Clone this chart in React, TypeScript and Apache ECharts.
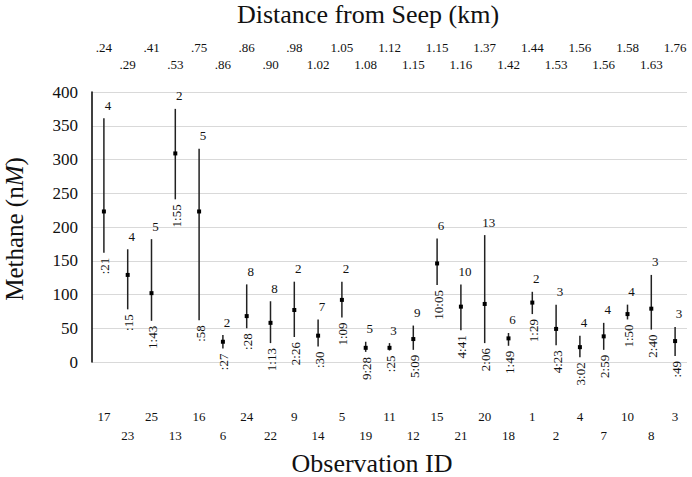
import React, { useEffect, useRef } from "react";
import * as echarts from "echarts";

const ids = ["17","23","25","13","16","6","24","22","9","14","5","19","11","12","15","21","20","18","1","2","4","7","10","8","3"];
const distances = [".24",".29",".41",".53",".75",".86",".86",".90",".98","1.02","1.05","1.08","1.12","1.15","1.15","1.16","1.37","1.42","1.44","1.53","1.56","1.56","1.58","1.63","1.76"];
const mins = [162,78,61,241,62,20,50,28,37,23,66,15,17,18,114,47,28,24,71,25,7,18,63,48,9];
const maxs = [361,167,182,375,316,40,115,90,119,63,119,30,28,54,183,115,188,43,104,85,39,58,85,129,52];
const means = [223,129,102,309,223,30,68,58,77,39,92,21,21,34,146,82,86,35,88,49,22,38,71,79,31];
const counts = [4,4,5,2,5,2,8,8,2,7,2,5,3,9,6,10,13,6,2,3,4,4,4,3,3];
const times = [":21",":15","1:43","1:55",":58",":27",":28","1:13","2:26",":30","1:09","9:28",":25","5:09","10:05","4:41","2:06","1:49","1:29","4:23","3:02","2:59","1:50","2:40",":49"];
const yTicks = { min: 0, max: 400, interval: 50 };

const FONT = "'Liberation Serif', 'Times New Roman', serif";
const TXT = "#111";

export default function App() {
  const ref = useRef<HTMLDivElement>(null);
  useEffect(() => {
    document.body.style.margin = "0";
    if (!ref.current) return;
    const chart = echarts.init(ref.current, undefined, { renderer: "svg" });
    const mkX = (data: string[], pos: "top" | "bottom", even: boolean, margin: number) => ({
      type: "category",
      data,
      position: pos,
      gridIndex: 0,
      axisLine: { show: false },
      axisTick: { show: false },
      splitLine: { show: false },
      axisLabel: {
        interval: (i: number) => (i % 2 === 0) === even,
        margin,
        fontSize: 13,
        fontFamily: FONT,
        color: TXT,
      },
    });
    const option: any = {
      animation: false,
      grid: { left: 92, right: 5, top: 92, bottom: 115 },
      xAxis: [
        mkX(ids, "bottom", true, 48),
        mkX(ids, "bottom", false, 67),
        mkX(distances, "top", true, 38),
        mkX(distances, "top", false, 21),
      ],
      yAxis: {
        type: "value",
        min: yTicks.min,
        max: yTicks.max,
        interval: yTicks.interval,
        axisLine: { show: true, lineStyle: { color: "#000", width: 1.5 } },
        axisTick: { show: false },
        splitLine: { lineStyle: { color: "#d9d9d9", width: 1 } },
        axisLabel: { fontSize: 17, fontFamily: FONT, color: TXT, margin: 14 },
      },
      graphic: [
        {
          type: "text",
          x: 368,
          y: 14,
          style: { text: "Distance from Seep (km)", fontSize: 26, fontFamily: FONT, fill: TXT, align: "center", verticalAlign: "middle" },
        },
        {
          type: "text",
          x: 372,
          y: 476,
          style: { text: "Observation ID", fontSize: 26, fontFamily: FONT, fill: TXT, align: "center", verticalAlign: "bottom" },
        },
        {
          type: "text",
          x: 14,
          y: 229,
          rotation: Math.PI / 2,
          style: {
            text: "{a|Methane (n}{b|M}{a|)}",
            align: "center",
            verticalAlign: "middle",
            fill: TXT,
            rich: {
              a: { fontSize: 25, fontFamily: FONT, fill: TXT },
              b: { fontSize: 25, fontFamily: FONT, fontStyle: "italic", fill: TXT },
            },
          },
        },
      ],
      series: [
        {
          type: "custom",
          xAxisIndex: 0,
          yAxisIndex: 0,
          data: ids.map((_, i) => [i, mins[i], maxs[i], means[i]]),
          encode: { x: 0, y: [1, 2, 3] },
          renderItem: (params: any, api: any) => {
            const i = api.value(0);
            const lo = api.coord([i, api.value(1)]);
            const hi = api.coord([i, api.value(2)]);
            const mid = api.coord([i, api.value(3)]);
            const k = params.dataIndex;
            return {
              type: "group",
              children: [
                {
                  type: "line",
                  shape: { x1: lo[0], y1: lo[1], x2: hi[0], y2: hi[1] },
                  style: { stroke: "#222", lineWidth: 1.5 },
                },
                {
                  type: "rect",
                  shape: { x: mid[0] - 2, y: mid[1] - 2, width: 4, height: 4 },
                  style: { fill: "#000" },
                },
                {
                  type: "text",
                  x: hi[0] + 4,
                  y: hi[1] - 13,
                  style: { text: String(counts[k]), fontSize: 13, fontFamily: FONT, fill: TXT, align: "center", verticalAlign: "middle" },
                },
                {
                  type: "text",
                  x: lo[0] + 1,
                  y: lo[1] + 5,
                  rotation: Math.PI / 2,
                  style: { text: times[k], fontSize: 13, fontFamily: FONT, fill: TXT, align: "right", verticalAlign: "middle" },
                },
              ],
            };
          },
        },
      ],
    };
    chart.setOption(option);
    return () => chart.dispose();
  }, []);
  return <div ref={ref} style={{ width: 692, height: 477 }} />;
}
